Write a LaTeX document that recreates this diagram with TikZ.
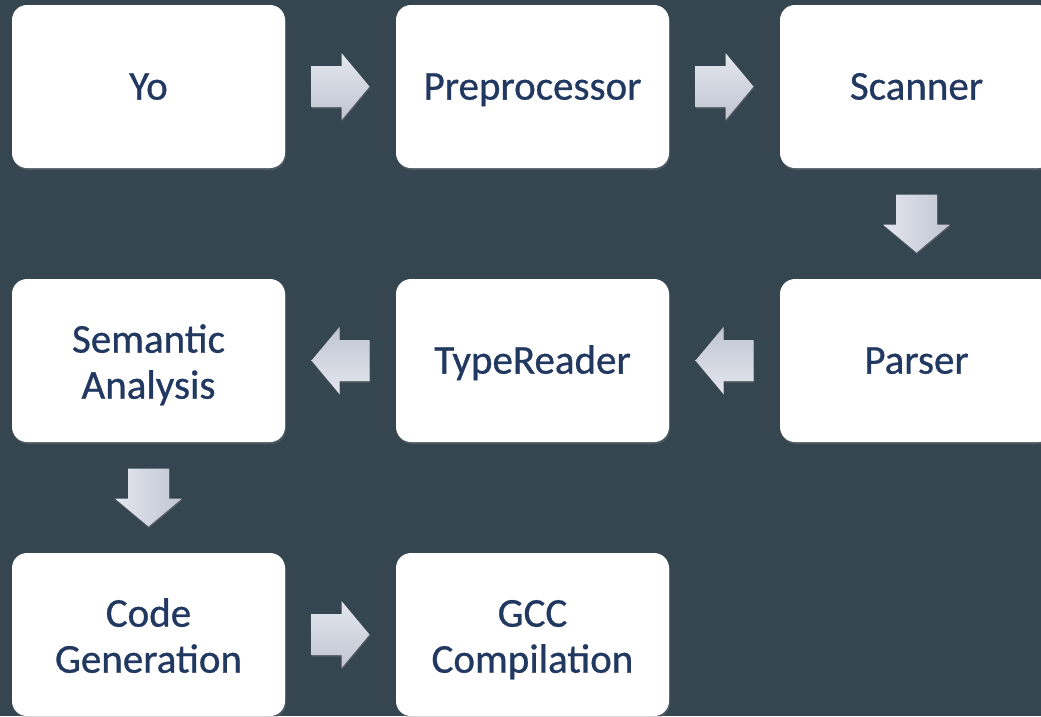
\documentclass[tikz,border=0pt]{standalone}
\usepackage{fontspec}
\setmainfont{Carlito}
\newfontfamily\stagefont{Carlito}[FakeBold=0.7]
\usetikzlibrary{positioning, calc, shadows}

\definecolor{slate}{RGB}{54,70,80}
\definecolor{inkblue}{RGB}{33,56,96}
\definecolor{arrowlight}{RGB}{228,231,239}
\definecolor{arrowdark}{RGB}{192,197,208}

\newcommand{\capstrut}{\rule[-0.26em]{0pt}{1.16em}}

\begin{document}
\begin{tikzpicture}[
        x=1pt, y=1pt,
        node distance=111pt and 111pt,
        stage/.style={fill=white, rectangle, rounded corners=15pt, minimum width=273pt, minimum height=163pt, outer sep=0pt, align=center, text=inkblue, font=\stagefont\fontsize{41}{46}\selectfont, execute at begin node=\capstrut, execute at end node=\capstrut, drop shadow={opacity=0.35, shadow xshift=1pt, shadow yshift=-2pt}},
        twoline/.style={stage, text height=87pt},
        pics/flow/.style={code={
            \shade[top color=arrowlight, bottom color=arrowdark, shading angle=#1, drop shadow={opacity=0.4, shadow xshift=0.5pt, shadow yshift=-1.5pt}]
                (-29,-20.5) -- (1,-20.5) -- (1,-33.5) -- (29,0) -- (1,33.5) -- (1,20.5) -- (-29,20.5) -- cycle;
        }}
    ]
        % Canvas
        \fill[slate] (0,-716) rectangle (1041,0);
        \useasboundingbox (0,-716) rectangle (1041,0);
        \clip (0,-716) rectangle (1041,0);

        % Nodes
        \node (yo) [stage] at (148.5,-86.5) {Yo};
        \node (pre) [stage, right=of yo] {Preprocessor};
        \node (scan) [stage, right=of pre] {Scanner};
        \node (pars) [stage, below=of scan] {Parser};
        \node (type) [stage, below=of pre] {TypeReader};
        \node (sem) [twoline, below=of yo] {Semantic\\Analysis};
        \node (code) [twoline, below=of sem] {Code\\Generation};
        \node (gcc) [twoline, right=of code] {GCC\\Compilation};

        % Block arrows
        \pic at ($(yo.east)!0.5!(pre.west)$) {flow=0};
        \pic at ($(pre.east)!0.5!(scan.west)$) {flow=0};
        \pic[rotate=-90] at ($(scan.south)!0.5!(pars.north)$) {flow=90};
        \pic[rotate=180] at ($(pars.west)!0.5!(type.east)$) {flow=180};
        \pic[rotate=180] at ($(type.west)!0.5!(sem.east)$) {flow=180};
        \pic[rotate=-90] at ($(sem.south)!0.5!(code.north)$) {flow=90};
        \pic at ($(code.east)!0.5!(gcc.west)$) {flow=0};
    \end{tikzpicture}
\end{document}
